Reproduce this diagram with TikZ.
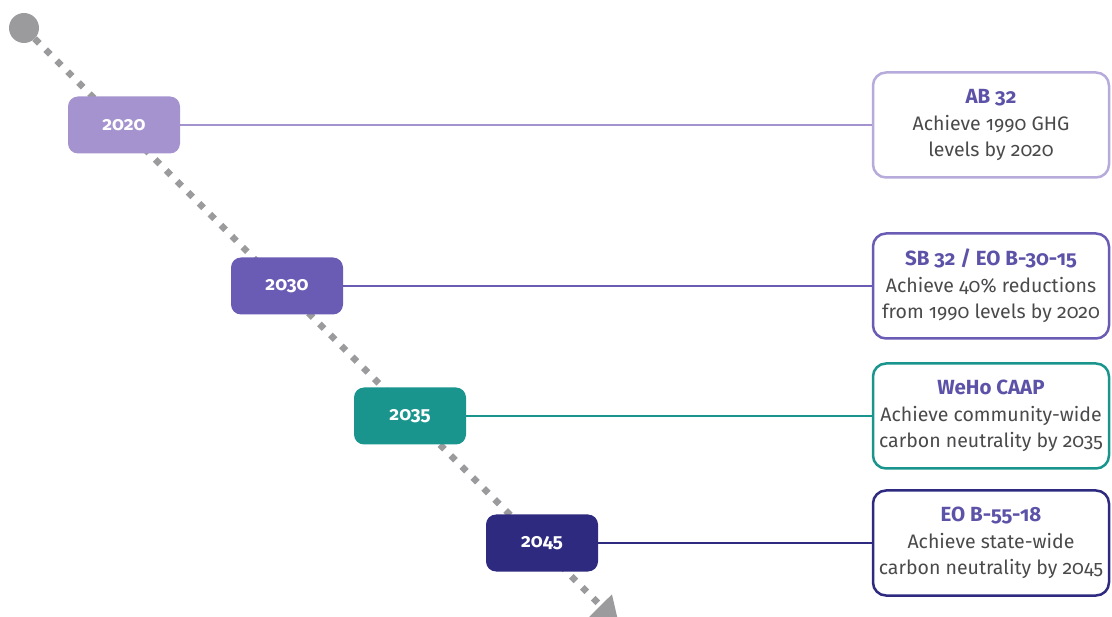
\documentclass[tikz,border=0pt]{standalone}
\usepackage{fontspec}
\setmainfont{Fira Sans}[Numbers=OldStyle]
\usetikzlibrary{arrows.meta}

\definecolor{dotgray}{HTML}{9B9B9D}
\definecolor{txtgray}{HTML}{4A4A4C}
\definecolor{titlecol}{HTML}{5C53A8}
\definecolor{col2020}{HTML}{A493CE}
\definecolor{edge2020}{HTML}{B6ABDA}
\definecolor{col2030}{HTML}{6A5BB5}
\definecolor{col2035}{HTML}{1A958E}
\definecolor{col2045}{HTML}{2E2A80}

\newcommand{\goaltitle}[1]{{\fontsize{20.5}{26}\selectfont\bfseries\color{titlecol}#1}}

\begin{document}
\begin{tikzpicture}[x=1pt,y=-1pt,
	yearbox/.style={rounded corners=10pt,minimum width=112pt,minimum height=57pt,text=white,font=\fontsize{19}{20}\selectfont\bfseries},
	goalbox/.style={draw,line width=2.5pt,rounded corners=13pt,fill=white,minimum width=236pt,minimum height=105pt,align=center,text=txtgray,inner sep=1pt,font=\fontsize{19.5}{26.5}\selectfont},
	link/.style={line width=2pt}]
	
	\pgfdeclarelayer{bg}
	\pgfsetlayers{bg,main}
	
	\useasboundingbox (0,0) rectangle (1112,617);
	\clip (0,0) rectangle (1112,617);
	
	\node[circle,fill=dotgray,minimum size=30pt,inner sep=0pt] (start) at (24,28) {};
	\coordinate (end) at (619,624);
	
	\node[yearbox,fill=col2020] (y2020) at (124,125) {2020};
	\node[yearbox,fill=col2030] (y2030) at (287,286) {2030};
	\node[yearbox,fill=col2035] (y2035) at (410,416) {2035};
	\node[yearbox,fill=col2045] (y2045) at (542,543) {2045};
	
	\node[goalbox,draw=edge2020] (g2020) at (991,125) {\goaltitle{AB 32}\\Achieve 1990 GHG\\levels by 2020};
	\node[goalbox,draw=col2030] (g2030) at (991,286) {\goaltitle{SB 32 / EO B-30-15}\\Achieve 40\% reductions\\from 1990 levels by 2020};
	\node[goalbox,draw=col2035] (g2035) at (991,416) {\goaltitle{WeHo CAAP}\\Achieve community-wide\\carbon neutrality by 2035};
	\node[goalbox,draw=col2045] (g2045) at (991,543) {\goaltitle{EO B-55-18}\\Achieve state-wide\\carbon neutrality by 2045};
	
	\draw[link,draw=col2020] (y2020) -- (g2020);
	\draw[link,draw=col2030] (y2030) -- (g2030);
	\draw[link,draw=col2035] (y2035) -- (g2035);
	\draw[link,draw=col2045] (y2045) -- (g2045);
	
	\begin{pgfonlayer}{bg}
	\draw[dotgray,line width=6.5pt,dash pattern=on 6.5pt off 9pt,-{Triangle[length=26pt,width=30pt]}] (start) -- (end);
	\end{pgfonlayer}
	
\end{tikzpicture}
\end{document}
